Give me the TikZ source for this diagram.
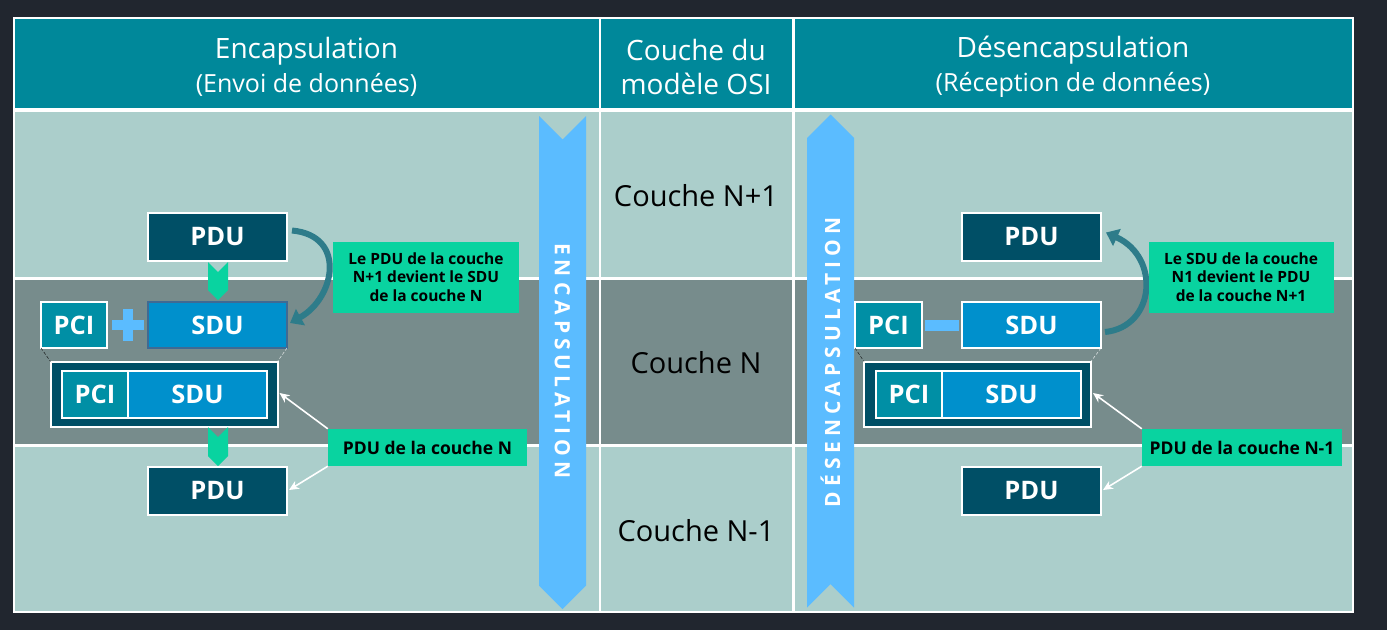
\documentclass[tikz,border=0pt]{standalone}
\usepackage{fontspec}
\setmainfont{Open Sans}
\usetikzlibrary{positioning,shapes.symbols,arrows.meta}

\definecolor{fond}{HTML}{21262F}
\definecolor{entete}{HTML}{00889A}
\definecolor{clair}{HTML}{ABCECB}
\definecolor{gris}{HTML}{778C8C}
\definecolor{pdufond}{HTML}{004F66}
\definecolor{pcifond}{HTML}{008FA5}
\definecolor{sdufond}{HTML}{0090CC}
\definecolor{sdubord}{HTML}{3F6A93}
\definecolor{vert}{HTML}{09D3A0}
\definecolor{ruban}{HTML}{5BBCFF}
\definecolor{courbe}{HTML}{2E7C8A}

\newcommand{\sousligne}{\fontsize{25}{34}\selectfont}

\begin{document}
\begin{tikzpicture}[x=1pt,y=-1pt,
    boite/.style={draw=white,line width=2pt,text=white,inner sep=0pt,outer sep=0pt,
      font=\bfseries\fontsize{25.5}{25.5}\selectfont},
    pdubox/.style={boite,fill=pdufond,minimum width=139,minimum height=48},
    sdubox/.style={boite,fill=sdufond,minimum width=139,minimum height=46},
    pcibox/.style={boite,fill=pcifond,minimum width=66,minimum height=46},
    cadre/.style={draw=white,line width=2pt,fill=pdufond,minimum width=227,minimum height=65,outer sep=0pt},
    chevron/.style={signal,signal from=north,signal to=south,fill=vert,
      minimum width=20,minimum height=18,inner sep=0pt},
    rubanfleche/.style={signal,fill=ruban,minimum width=47,minimum height=446,inner sep=0pt},
    texteruban/.style={text=white,font=\bfseries\fontsize{21}{21}\selectfont\addfontfeatures{LetterSpace=24}},
    etiquette/.style={fill=vert,text=black,align=center,inner sep=0pt,
      font=\bfseries\fontsize{15.5}{18.5}\selectfont},
    couche/.style={text=black,font=\fontsize{29}{29}\selectfont},
    titre/.style={text=white,align=center,font=\fontsize{28}{34}\selectfont},
    courbefleche/.style={draw=courbe,line width=6pt,-{Triangle[width=18pt,length=12pt]}},
    blanche/.style={draw=white,line width=1.6pt,-{Stealth[width=9pt,length=10pt]}}
  ]
  % fond et tableau
  \fill[fond] (0,0) rectangle (1387,630);
  \fill[white] (13,16.5) rectangle (1354,613);
  \foreach \xa/\xb in {15/598.5, 601/792, 794.5/1352}
    \fill[entete] (\xa,18.5) rectangle (\xb,108);
  \foreach \ya/\yb/\c in {112/277/clair, 279.5/444/gris, 446.5/611/clair}
    \foreach \xa/\xb in {15/598.5, 601/792, 794.5/1352}
      \fill[\c] (\xa,\ya) rectangle (\xb,\yb);

  % en-tetes
  \node[titre] (hEnc) at (306.5,67) {Encapsulation\\{\sousligne(Envoi de données)}};
  \node[titre] (hOSI) at (696,67) {Couche du\\modèle OSI};
  \node[titre] (hDes) at (1073,67) {Désencapsulation\\{\sousligne(Réception de données)}};

  % couches
  \node[couche] (cN1) at (696,196) {Couche N+1};
  \node[couche] (cN) at (696,363) {Couche N};
  \node[couche] (cNm1) at (696,531) {Couche N-1};

  % rubans
  \node[rubanfleche,signal from=north,signal to=south] (rubEnc) at (562.5,362.5) {};
  \node[texteruban,rotate=-90] (txtEnc) at (562.5,361) {ENCAPSULATION};
  \node[rubanfleche,signal from=south,signal to=north] (rubDes) at (830.5,361) {};
  \node[texteruban,rotate=90] (txtDes) at (830.5,362.5) {DÉSENCAPSULATION};

  % encapsulation
  \node[pdubox] (pduA) at (217.5,236.5) {PDU};
  \node[chevron] (chevA1) at (218,281) {};
  \node[pcibox] (pciA) at (74,325) {PCI};
  \node[sdubox,draw=sdubord] (sduA) at (217.5,325) {SDU};
  \draw[ruban,line width=10pt] (112,325) -- (144,325) (128,309) -- (128,341);
  \node[cadre] (trameA) at (164,394) {};
  \node[pcibox,minimum height=47] (pciA2) at (95,394.5) {PCI};
  \node[sdubox,minimum height=47,right=0pt of pciA2] (sduA2) {SDU};
  \node[chevron,minimum height=19] (chevA2) at (218,446.5) {};
  \node[pdubox] (pduA2) at (217.5,491) {PDU};
  \draw[black,densely dashed,thin] (pciA.south west) -- (trameA.north west);
  \draw[white,densely dashed,thin] (sduA.south east) -- (trameA.north east);
  \draw[courbefleche] ([shift={(5,-6)}]pduA.east) .. controls +(55,5) and +(45,-25) .. ([shift={(3,-2)}]sduA.east);
  \node[etiquette,minimum width=186,minimum height=71] (noteA) at (426,277)
    {Le PDU de la couche\\N+1 devient le SDU\\de la couche N};
  \node[etiquette,minimum width=199,minimum height=37,font=\bfseries\fontsize{17.5}{18}\selectfont]
    (noteN) at (427.5,447.5) {PDU de la couche N};
  \draw[blanche] (noteN.north west) -- ([shift={(2,-1)}]trameA.east);
  \draw[blanche] (noteN.south west) -- ([shift={(2,-1)}]pduA2.east);

  % desencapsulation
  \node[pdubox] (pduB) at (1031.5,236.5) {PDU};
  \node[pcibox,minimum width=67] (pciB) at (888.5,325) {PCI};
  \node[sdubox] (sduB) at (1031.5,325) {SDU};
  \draw[ruban,line width=11pt] ([xshift=3pt]pciB.east) -- ([xshift=-3pt]sduB.west);
  \node[cadre] (trameB) at (977.5,394) {};
  \node[pcibox,minimum height=47] (pciB2) at (909,394.5) {PCI};
  \node[sdubox,minimum height=47,right=0pt of pciB2] (sduB2) {SDU};
  \node[pdubox] (pduB2) at (1031.5,491) {PDU};
  \draw[black,densely dashed,thin] (pciB.south west) -- (trameB.north west);
  \draw[white,densely dashed,thin] (sduB.south east) -- (trameB.north east);
  \draw[courbefleche] ([shift={(4,7)}]sduB.east) .. controls +(50,-5) and +(55,25) .. ([shift={(5,-4)}]pduB.east);
  \node[etiquette,minimum width=185,minimum height=71] (noteB) at (1241,277)
    {Le SDU de la couche\\N1 devient le PDU\\de la couche N+1};
  \node[etiquette,minimum width=200,minimum height=37,font=\bfseries\fontsize{17.5}{18}\selectfont]
    (noteNm1) at (1242,447.5) {PDU de la couche N-1};
  \draw[blanche] (noteNm1.north west) -- ([shift={(2,-1)}]trameB.east);
  \draw[blanche] (noteNm1.south west) -- ([shift={(2,-1)}]pduB2.east);
\end{tikzpicture}
\end{document}
